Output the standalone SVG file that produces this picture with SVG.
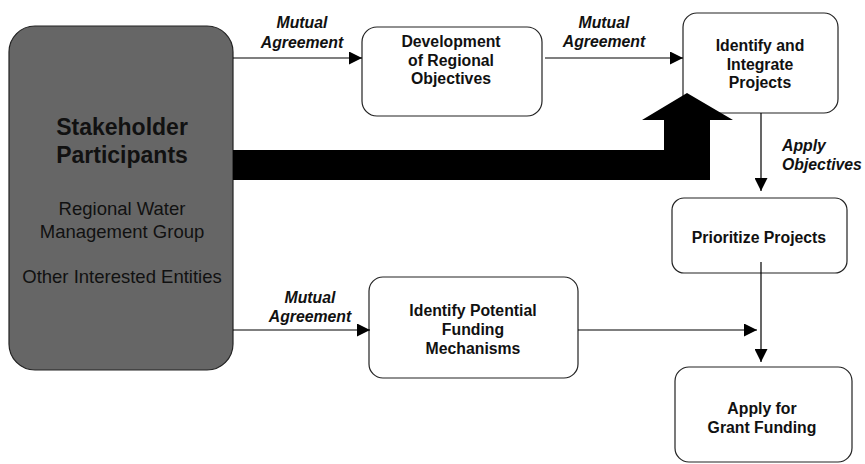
<svg xmlns="http://www.w3.org/2000/svg" width="865" height="464" viewBox="0 0 865 464">
<defs>
<style>
.box{fill:#ffffff;stroke:#222222;stroke-width:1.2}
.t{font-family:"Liberation Sans",Arial,sans-serif;font-weight:bold;font-size:15.8px;fill:#111;text-anchor:middle}
.lbl{font-family:"Liberation Sans",Arial,sans-serif;font-weight:bold;font-style:italic;font-size:15.8px;fill:#111;text-anchor:middle}
.lbls{font-family:"Liberation Sans",Arial,sans-serif;font-weight:bold;font-style:italic;font-size:15.8px;fill:#111;text-anchor:start}
.big{font-family:"Liberation Sans",Arial,sans-serif;font-weight:bold;font-size:23px;fill:#111;text-anchor:middle}
.sub{font-family:"Liberation Sans",Arial,sans-serif;font-size:18.5px;fill:#111;text-anchor:middle}
.conn{stroke:#000;stroke-width:1.2;fill:none}
</style>
<marker id="ah" viewBox="0 0 10 10" refX="10" refY="5" markerWidth="13" markerHeight="13" markerUnits="userSpaceOnUse" orient="auto">
<path d="M0,0 L10,5 L0,10 Z" fill="#000"/>
</marker>
</defs>
<rect width="865" height="464" fill="#ffffff"/>

<g id="stakeholders">
<rect x="9" y="26" width="224" height="344" rx="26" ry="26" fill="#666666" stroke="#222" stroke-width="1.2"/>
<text class="big" x="122" y="135">Stakeholder</text>
<text class="big" x="122" y="163">Participants</text>
<text class="sub" x="122" y="215">Regional Water</text>
<text class="sub" x="122" y="238">Management Group</text>
<text class="sub" x="122" y="283">Other Interested Entities</text>
</g>

<g id="development">
<rect class="box" x="362" y="27" width="180" height="89" rx="15" ry="15"/>
<text class="t" x="451" y="47">Development</text>
<text class="t" x="451" y="66">of Regional</text>
<text class="t" x="451" y="84">Objectives</text>
</g>

<g id="identify-integrate">
<rect class="box" x="683" y="13" width="155" height="100" rx="14" ry="14"/>
<text class="t" x="760" y="51">Identify and</text>
<text class="t" x="760" y="70">Integrate</text>
<text class="t" x="760" y="88">Projects</text>
</g>

<g id="prioritize">
<rect class="box" x="672" y="198" width="175" height="75" rx="12" ry="12"/>
<text class="t" x="759" y="243">Prioritize Projects</text>
</g>

<g id="funding-mechanisms">
<rect class="box" x="369" y="277" width="209" height="101" rx="14" ry="14"/>
<text class="t" x="473" y="316">Identify Potential</text>
<text class="t" x="473" y="335">Funding</text>
<text class="t" x="473" y="354">Mechanisms</text>
</g>

<g id="grant-funding">
<rect class="box" x="675" y="367" width="177" height="95" rx="14" ry="14"/>
<text class="t" x="762" y="414">Apply for</text>
<text class="t" x="762" y="433">Grant Funding</text>
</g>

<g id="connectors">
<line class="conn" x1="233" y1="58" x2="362" y2="58" marker-end="url(#ah)"/>
<line class="conn" x1="545" y1="58" x2="683" y2="58" marker-end="url(#ah)"/>
<line class="conn" x1="761" y1="113" x2="761" y2="191" marker-end="url(#ah)"/>
<line class="conn" x1="761" y1="262" x2="761" y2="362" marker-end="url(#ah)"/>
<line class="conn" x1="578" y1="330" x2="757" y2="330" marker-end="url(#ah)"/>
<line class="conn" x1="233" y1="330" x2="370" y2="330" marker-end="url(#ah)"/>
<path d="M233,150 L664,150 L664,120 L642,120 L687,93 L733,120 L710,120 L710,180 L233,180 Z" fill="#000"/>
<text class="lbl" x="302" y="28">Mutual</text>
<text class="lbl" x="302" y="48">Agreement</text>
<text class="lbl" x="604" y="28">Mutual</text>
<text class="lbl" x="604" y="47">Agreement</text>
<text class="lbl" x="310" y="303">Mutual</text>
<text class="lbl" x="310" y="322">Agreement</text>
<text class="lbls" x="782" y="151">Apply</text>
<text class="lbls" x="782" y="170">Objectives</text>
</g>
</svg>
